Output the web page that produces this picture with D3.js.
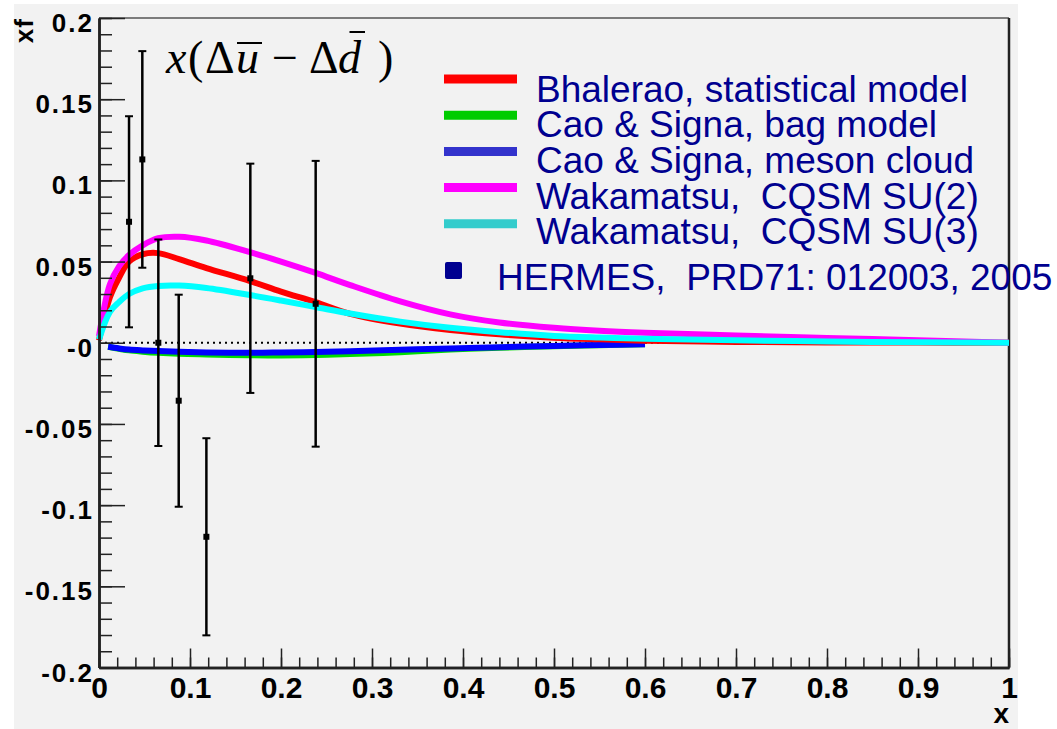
<!DOCTYPE html>
<html>
<head>
<meta charset="utf-8">
<script src="https://cdn.jsdelivr.net/npm/d3@7"></script>
<style>
body { margin: 0; background: #fff; }
svg { display: block; }
</style>
</head>
<body>
<svg width="1057" height="729"></svg>
<script>
// theory curves, x(dubar - ddbar)
var curveX   = [0, 0.012, 0.022, 0.033, 0.048, 0.065, 0.088, 0.118, 0.166, 0.2, 0.238, 0.276, 0.331, 0.386, 0.44, 0.5, 0.55, 0.6, 0.7, 0.8, 0.9, 1.0];
var bhalerao = [0.0015, 0.028, 0.040, 0.050, 0.0545, 0.0552, 0.0515, 0.046, 0.038, 0.0315, 0.025, 0.0178, 0.0118, 0.0079, 0.0052, 0.0031, 0.0021, 0.0013, 0.0005, 0.0002, 0.0001, 0];
var wakaSU2  = [0.004, 0.036, 0.047, 0.054, 0.060, 0.0644, 0.0653, 0.063, 0.0558, 0.050, 0.043, 0.0355, 0.0255, 0.0175, 0.0125, 0.0092, 0.0074, 0.0062, 0.0045, 0.003, 0.0015, 0];
var wakaSU3  = [0.002, 0.019, 0.025, 0.0300, 0.0335, 0.035, 0.0352, 0.0337, 0.0294, 0.026, 0.022, 0.018, 0.013, 0.0092, 0.0065, 0.0042, 0.0032, 0.0025, 0.0015, 0.0008, 0.0003, 0];

// Cao & Signa curves stop at x = 0.6
var caoX       = [0.01, 0.022, 0.033, 0.048, 0.065, 0.088, 0.118, 0.166, 0.2, 0.238, 0.276, 0.331, 0.386, 0.44, 0.5, 0.55, 0.6];
var bagModel   = [-0.0025, -0.0037, -0.0047, -0.0055, -0.0062, -0.0068, -0.0072, -0.0077, -0.0078, -0.0076, -0.007, -0.0058, -0.0042, -0.0031, -0.0022, -0.0015, -0.0009];
var mesonCloud = [-0.0025, -0.0035, -0.0042, -0.0047, -0.0051, -0.0056, -0.006, -0.0062, -0.006, -0.0057, -0.0052, -0.0043, -0.0035, -0.0027, -0.002, -0.0014, -0.0009];

// HERMES points
var hermesX   = [0.033, 0.0476, 0.0652, 0.0876, 0.118, 0.1663, 0.2381];
var hermesY   = [0.0745, 0.1129, 0.0, -0.0357, -0.1195, 0.0397, 0.024];
var hermesErr = [0.065, 0.0667, 0.0636, 0.0653, 0.0607, 0.0706, 0.088];

var xTicks = [0, 0.1, 0.2, 0.3, 0.4, 0.5, 0.6, 0.7, 0.8, 0.9, 1];
var xTickLabels = ["0", "0.1", "0.2", "0.3", "0.4", "0.5", "0.6", "0.7", "0.8", "0.9", "1"];
var yTicks = [-0.2, -0.15, -0.1, -0.05, 0, 0.05, 0.1, 0.15, 0.2];
var yTickLabels = ["-0.2", "-0.15", "-0.1", "-0.05", "-0", "0.05", "0.1", "0.15", "0.2"];

var legendLabels = ["Bhalerao, statistical model", "Cao & Signa, bag model", "Cao & Signa, meson cloud", "Wakamatsu,  CQSM SU(2)", "Wakamatsu,  CQSM SU(3)"];
var legendColors = ["#ff0000", "#00cc00", "#3333cc", "#ff00ff", "#33cccc"];
var hermesLabel = "HERMES,  PRD71: 012003, 2005";

var svg = d3.select("svg");
var axisFont = "'Liberation Sans', Arial, Helvetica, sans-serif";

var x = d3.scaleLinear().domain([0, 1]).range([99, 1009]);
var y = d3.scaleLinear().domain([-0.2, 0.2]).range([667.5, 18]);

// canvas
svg.append("rect").attr("x", 14).attr("y", 4).attr("width", 1004).attr("height", 725).attr("fill", "#f2f2f2");

// frame top + right
svg.append("line").attr("x1", x(0)).attr("x2", x(1)).attr("y1", y(0.2)).attr("y2", y(0.2))
    .attr("stroke", "#555").attr("stroke-width", 1.5);
svg.append("line").attr("x1", x(1)).attr("x2", x(1)).attr("y1", y(0.2)).attr("y2", y(-0.2))
    .attr("stroke", "#222").attr("stroke-width", 2.5);

// zero line, dotted
svg.append("line").attr("x1", x(0)).attr("x2", x(1)).attr("y1", y(0)).attr("y2", y(0))
    .attr("stroke", "#000").attr("stroke-width", 2).attr("stroke-dasharray", "2,4");

var line = d3.line()
    .x(function(d) { return x(d[0]); })
    .y(function(d) { return y(d[1]); })
    .curve(d3.curveCatmullRom.alpha(0.5));

function zipped(xs, ys) {
  return xs.map(function(v, i) { return [v, ys[i]]; });
}

var curves = [
  {data: zipped(caoX, bagModel), color: "#00dd00"},
  {data: zipped(caoX, mesonCloud), color: "#0000ff"},
  {data: zipped(curveX, bhalerao), color: "#ff0000"},
  {data: zipped(curveX, wakaSU2), color: "#ff00ff"},
  {data: zipped(curveX, wakaSU3), color: "#00ffff"}
];

svg.append("g").selectAll("path")
  .data(curves)
  .enter().append("path")
    .attr("d", function(d) { return line(d.data); })
    .attr("fill", "none")
    .attr("stroke", function(d) { return d.color; })
    .attr("stroke-width", 6);

// HERMES error bars
var pts = svg.append("g").selectAll("g")
  .data(hermesX.map(function(v, i) { return {x: v, y: hermesY[i], e: hermesErr[i]}; }))
  .enter().append("g");

pts.append("line")
    .attr("x1", function(d) { return x(d.x); })
    .attr("x2", function(d) { return x(d.x); })
    .attr("y1", function(d) { return y(d.y - d.e); })
    .attr("y2", function(d) { return y(d.y + d.e); })
    .attr("stroke", "#000").attr("stroke-width", 2.5);
[-1, 1].forEach(function(s) {
  pts.append("line")
      .attr("x1", function(d) { return x(d.x) - 4; })
      .attr("x2", function(d) { return x(d.x) + 4; })
      .attr("y1", function(d) { return y(d.y + s * d.e); })
      .attr("y2", function(d) { return y(d.y + s * d.e); })
      .attr("stroke", "#000").attr("stroke-width", 2);
});
pts.append("rect")
    .attr("x", function(d) { return x(d.x) - 3; })
    .attr("y", function(d) { return y(d.y) - 3; })
    .attr("width", 6).attr("height", 6)
    .attr("fill", "#000");

// x axis
var xMinor = svg.append("g").attr("transform", "translate(0," + y(-0.2) + ")")
    .call(d3.axisBottom(x).tickValues(d3.range(0, 1.001, 0.02)).tickSize(-10).tickSizeOuter(0).tickFormat(""));
var xAxis = svg.append("g").attr("transform", "translate(0," + y(-0.2) + ")")
    .call(d3.axisBottom(x).tickValues(xTicks).tickSize(-19).tickSizeOuter(0).tickPadding(9)
      .tickFormat(function(d, i) { return xTickLabels[i]; }));

// y axis
var yMinor = svg.append("g").attr("transform", "translate(" + x(0) + ",0)")
    .call(d3.axisLeft(y).tickValues(d3.range(-0.2, 0.2001, 0.01)).tickSize(-13).tickSizeOuter(0).tickFormat(""));
var yAxis = svg.append("g").attr("transform", "translate(" + x(0) + ",0)")
    .call(d3.axisLeft(y).tickValues(yTicks).tickSize(-26).tickSizeOuter(0).tickPadding(5)
      .tickFormat(function(d, i) { return yTickLabels[i]; }));

[xMinor, xAxis, yMinor, yAxis].forEach(function(g) {
  g.selectAll("line").attr("stroke", "#222").attr("stroke-width", 1.5);
  g.select(".domain").attr("stroke", "#222").attr("stroke-width", 2.5);
});
xAxis.selectAll("text")
    .style("font-family", axisFont).style("font-weight", "bold").style("font-size", "30px")
    .attr("fill", "#000");
yAxis.selectAll("text")
    .style("font-family", axisFont).style("font-weight", "bold").style("font-size", "26px")
    .style("letter-spacing", "2px")
    .attr("dy", "0.52em")
    .attr("fill", "#000");

// axis titles
svg.append("text")
    .attr("transform", "translate(33," + y(0.2) + ") rotate(-90)")
    .attr("text-anchor", "end")
    .style("font-family", axisFont).style("font-weight", "bold").style("font-size", "26px")
    .style("letter-spacing", "1px")
    .text("xf");
svg.append("text")
    .attr("x", x(1)).attr("y", 723)
    .attr("text-anchor", "end")
    .style("font-family", axisFont).style("font-weight", "bold").style("font-size", "28px")
    .text("x");

// formula x(Δū − Δd̄)
var title = svg.append("text")
    .attr("y", 73)
    .style("font-family", "'Liberation Serif', 'Times New Roman', serif")
    .style("font-size", "46px");
var parts = [
  ["x", "italic", 166], ["(", "normal", 188], ["\u0394", "normal", 205], ["u", "italic", 236],
  ["\u2212", "normal", 272], ["\u0394", "normal", 309], ["d", "italic", 338], [")", "normal", 378]
];
parts.forEach(function(p) {
  title.append("tspan").attr("x", p[2]).style("font-style", p[1]).text(p[0]);
});
var tn = title.node();
var uS = tn.getStartPositionOfChar(3).x, uE = tn.getEndPositionOfChar(3).x;
var dS = tn.getStartPositionOfChar(6).x, dE = tn.getEndPositionOfChar(6).x;
svg.append("line").attr("x1", uS + 1).attr("x2", uE + 3).attr("y1", 43).attr("y2", 43)
    .attr("stroke", "#000").attr("stroke-width", 2);
svg.append("line").attr("x1", dS + (dE - dS) * 0.5).attr("x2", dE + 4).attr("y1", 32).attr("y2", 32)
    .attr("stroke", "#000").attr("stroke-width", 2);

// legend
var leg = svg.append("g").selectAll("g")
  .data(legendLabels)
  .enter().append("g");
leg.append("line")
    .attr("x1", 444).attr("x2", 517)
    .attr("y1", function(d, i) { return 79 + i * 36.2; })
    .attr("y2", function(d, i) { return 79 + i * 36.2; })
    .attr("stroke", function(d, i) { return legendColors[i]; })
    .attr("stroke-width", 9);
leg.append("text")
    .attr("x", 536)
    .attr("y", function(d, i) { return 101.7 + i * 35.6; })
    .style("font-family", axisFont).style("font-size", "37px").style("white-space", "pre")
    .attr("fill", "#000090")
    .text(function(d) { return d; });

svg.append("rect").attr("x", 445).attr("y", 262).attr("width", 17).attr("height", 17)
    .attr("rx", 2).attr("fill", "#000090");
svg.append("text")
    .attr("x", 497).attr("y", 290)
    .style("font-family", axisFont).style("font-size", "37px").style("white-space", "pre")
    .attr("fill", "#000090")
    .text(hermesLabel);
</script>
</body>
</html>
